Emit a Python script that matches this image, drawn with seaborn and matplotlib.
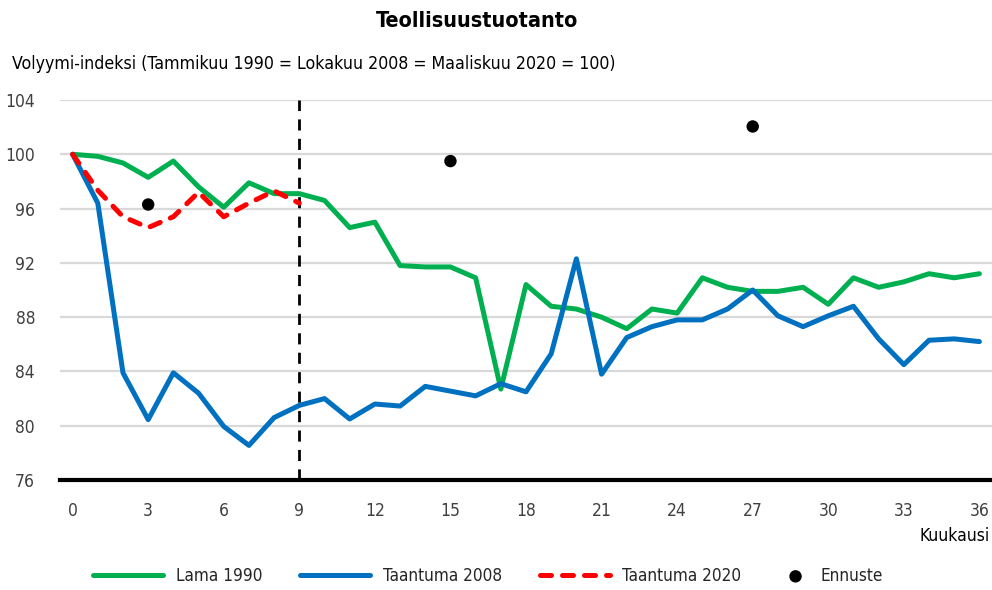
import matplotlib
matplotlib.use("Agg")
import matplotlib.pyplot as plt
import seaborn as sns

sns.set_theme(style="white")
plt.rcParams['font.family'] = ['DejaVu Sans']
plt.rcParams['font.stretch'] = 'condensed'

# Data
months = list(range(37))
lama_1990 = [100, 99.85, 99.36, 98.3, 99.5, 97.6, 96.1, 97.9, 97.1, 97.1,
             96.6, 94.6, 95.0, 91.8, 91.7, 91.7, 90.9, 82.7, 90.4, 88.8,
             88.6, 88.0, 87.15, 88.6, 88.3, 90.9, 90.2, 89.9, 89.9, 90.2,
             88.95, 90.9, 90.2, 90.6, 91.2, 90.9, 91.2]
taantuma_2008 = [100, 96.4, 83.9, 80.45, 83.9, 82.4, 79.95, 78.55, 80.6, 81.5,
                 82.0, 80.5, 81.6, 81.45, 82.9, 82.55, 82.2, 83.1, 82.5, 85.3,
                 92.3, 83.8, 86.5, 87.3, 87.8, 87.8, 88.6, 90.0, 88.1, 87.3,
                 88.1, 88.8, 86.4, 84.5, 86.3, 86.4, 86.2]
months_2020 = list(range(10))
taantuma_2020 = [100, 97.35, 95.4, 94.6, 95.4, 97.2, 95.4, 96.4, 97.3, 96.4]
ennuste_months = [3, 15, 27]
ennuste = [96.3, 99.5, 102.05]

x_ticks = list(range(0, 37, 3))
y_ticks = list(range(76, 105, 4))

fig = plt.figure(figsize=(9.92, 5.9), dpi=100)
ax = fig.add_axes([0.0605, 0.1864, 0.9395, 0.6441])

for y in y_ticks[1:]:
    ax.axhline(y, color='#d9d9d9', lw=1.6, zorder=0)
ax.axvline(9, color='black', lw=2, ls=(0, (4, 3)), zorder=1)

sns.lineplot(x=months, y=lama_1990, ax=ax, color='#00b050', lw=3.6,
             label='Lama 1990', zorder=3)
sns.lineplot(x=months, y=taantuma_2008, ax=ax, color='#0070c0', lw=3.6,
             label='Taantuma 2008', zorder=3)
sns.lineplot(x=months_2020, y=taantuma_2020, ax=ax, color='#ff0000', lw=3.6,
             ls=(0, (2.2, 2.2)), dash_capstyle='round',
             label='Taantuma 2020', zorder=4)
sns.scatterplot(x=ennuste_months, y=ennuste, ax=ax, color='black', s=110,
                edgecolor='none', label='Ennuste', zorder=5)

ax.set_xlim(-0.5, 36.5)
ax.set_ylim(76, 104)
ax.set_xticks(x_ticks)
ax.set_yticks(y_ticks)
ax.tick_params(axis='both', length=0, labelsize=12.5, colors='#404040')
ax.tick_params(axis='x', pad=16)
ax.tick_params(axis='y', pad=18)
for s in ['left', 'right', 'top']:
    ax.spines[s].set_visible(False)
ax.spines['bottom'].set_color('black')
ax.spines['bottom'].set_linewidth(3)
ax.grid(False)

fig.text(0.481, 0.965, 'Teollisuustuotanto', ha='center', va='center',
         fontsize=15.5, fontweight='bold', color='black')
fig.text(0.012, 0.892, 'Volyymi-indeksi (Tammikuu 1990 = Lokakuu 2008 = Maaliskuu 2020 = 100)',
         ha='left', va='center', fontsize=12.7, color='black')
fig.text(0.998, 0.091, 'Kuukausi', ha='right', va='center', fontsize=12.5,
         color='black')

handles, labels = ax.get_legend_handles_labels()
ax.get_legend().remove()
handles[-1].set_sizes([80])

# line series legend
fig.legend(handles[:3], labels[:3], loc='center left',
           bbox_to_anchor=(93 / 992, 0.024), ncol=3, frameon=False,
           fontsize=12.3, handlelength=4.1, columnspacing=2.2,
           handletextpad=0.75, borderpad=0, borderaxespad=0)
# forecast dot legend
fig.legend(handles[3:], labels[3:], loc='center left',
           bbox_to_anchor=(787 / 992, 0.024), frameon=False, fontsize=12.3,
           handlelength=1.0, handletextpad=0.95, borderpad=0, borderaxespad=0)

fig.savefig('out.png', dpi=100)
